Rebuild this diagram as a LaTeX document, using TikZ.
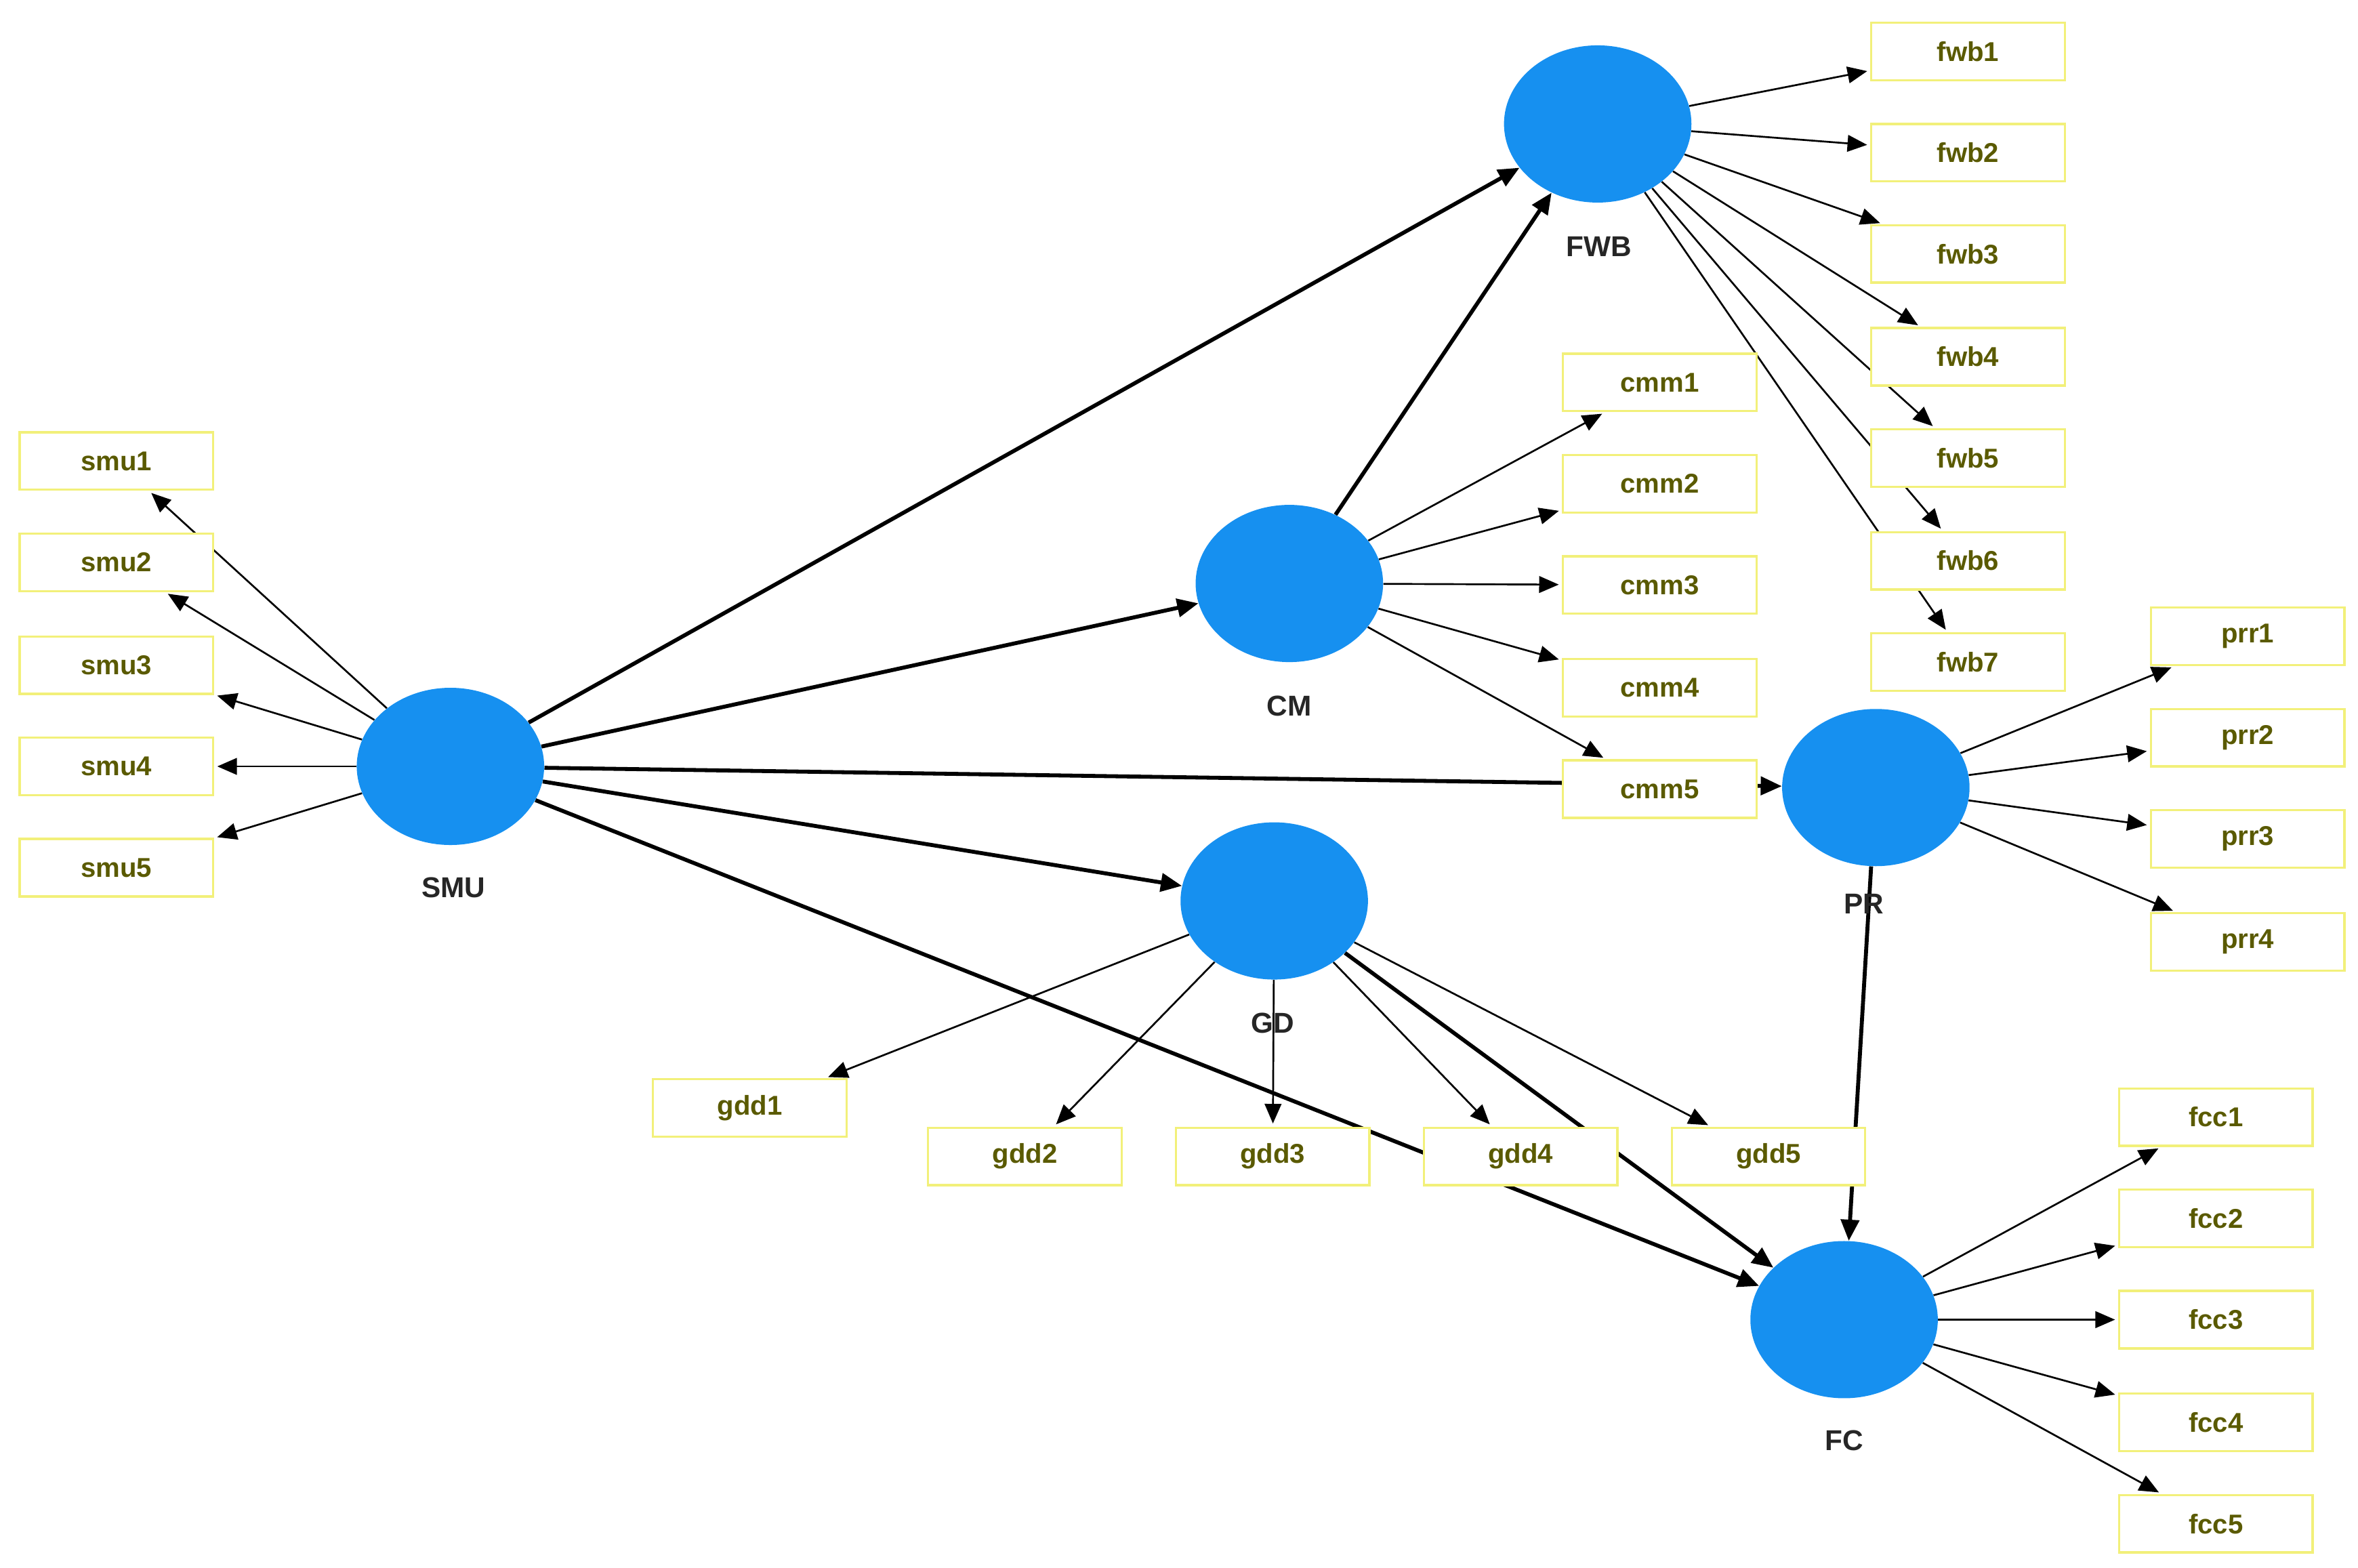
\documentclass[tikz,border=0pt]{standalone}
\usepackage{fontspec}
\setmainfont{Liberation Sans}
\usetikzlibrary{arrows.meta,backgrounds,shapes.geometric}
\definecolor{lv}{HTML}{1690F0}
\definecolor{bx}{HTML}{F2F07A}
\definecolor{tx}{HTML}{5A5A00}
\begin{document}
\begin{tikzpicture}[x=1pt,y=-1pt,
 lat/.style={ellipse,fill=lv,minimum width=124pt,minimum height=104pt,inner sep=0pt},
 ind/.style={draw=bx,line width=1.5pt,fill=white,minimum width=128pt,minimum height=38pt,font=\fontsize{18}{20}\bfseries\selectfont,text=tx,inner sep=0pt},
 lab/.style={font=\fontsize{19}{21}\bfseries\selectfont,text=black!85},
 ld/.style={-{Triangle[length=13pt,width=11pt]},line width=1.2pt,shorten >=2pt},
 st/.style={-{Triangle[length=14pt,width=12pt]},line width=2.6pt}]
\useasboundingbox (0,0) rectangle (1560,1037);
\node[lat] (FWB) at (1057,82) {};
\node[lat] (CM) at (853,386) {};
\node[lat] (SMU) at (298,507) {};
\node[lat] (GD) at (843,596) {};
\node[lat] (PR) at (1241,521) {};
\node[lat] (FC) at (1220,873) {};
\node[lab] (lFWB) at (1058,163) {FWB};
\node[lab] (lCM) at (853,467) {CM};
\node[lab] (lSMU) at (300,587) {SMU};
\node[lab] (lGD) at (842,677) {GD};
\node[lab] (lPR) at (1233,598) {PR};
\node[lab] (lFC) at (1220,953) {FC};
\foreach \i/\y in {1/305,2/372,3/440,4/507,5/574} \node[ind] (smu\i) at (77,\y) {smu\i};
\foreach \i/\y in {1/34,2/101,3/168,4/236,5/303,6/371,7/438} \node[ind] (fwb\i) at (1302,\y) {fwb\i};
\foreach \i/\y in {1/253,2/320,3/387,4/455,5/522} \node[ind] (cmm\i) at (1098,\y) {cmm\i};
\foreach \i/\y in {1/421,2/488,3/555,4/623} \node[ind] (prr\i) at (1487,\y) {prr\i};
\foreach \i/\y in {1/739,2/806,3/873,4/941,5/1008} \node[ind] (fcc\i) at (1466,\y) {fcc\i};
\node[ind] (gdd1) at (496,733) {gdd1};
\node[ind] (gdd2) at (678,765) {gdd2};
\node[ind] (gdd3) at (842,765) {gdd3};
\node[ind] (gdd4) at (1006,765) {gdd4};
\node[ind] (gdd5) at (1170,765) {gdd5};
\begin{scope}[on background layer]
\foreach \i in {1,...,5} \draw[ld] (SMU) -- (smu\i);
\foreach \i in {1,...,7} \draw[ld] (FWB) -- (fwb\i);
\foreach \i in {1,...,5} \draw[ld] (CM) -- (cmm\i);
\foreach \i in {1,...,4} \draw[ld] (PR) -- (prr\i);
\foreach \i in {1,...,5} \draw[ld] (FC) -- (fcc\i);
\foreach \i in {1,...,5} \draw[ld] (GD) -- (gdd\i);
\draw[st] (SMU) -- (FWB);
\draw[st] (SMU) -- (CM);
\draw[st] (SMU) -- (GD);
\draw[st] (SMU) -- (PR);
\draw[st] (SMU) -- (FC);
\draw[st] (CM) -- (FWB);
\draw[st] (GD) -- (FC);
\draw[st] (PR) -- (FC);
\end{scope}
\end{tikzpicture}
\end{document}
